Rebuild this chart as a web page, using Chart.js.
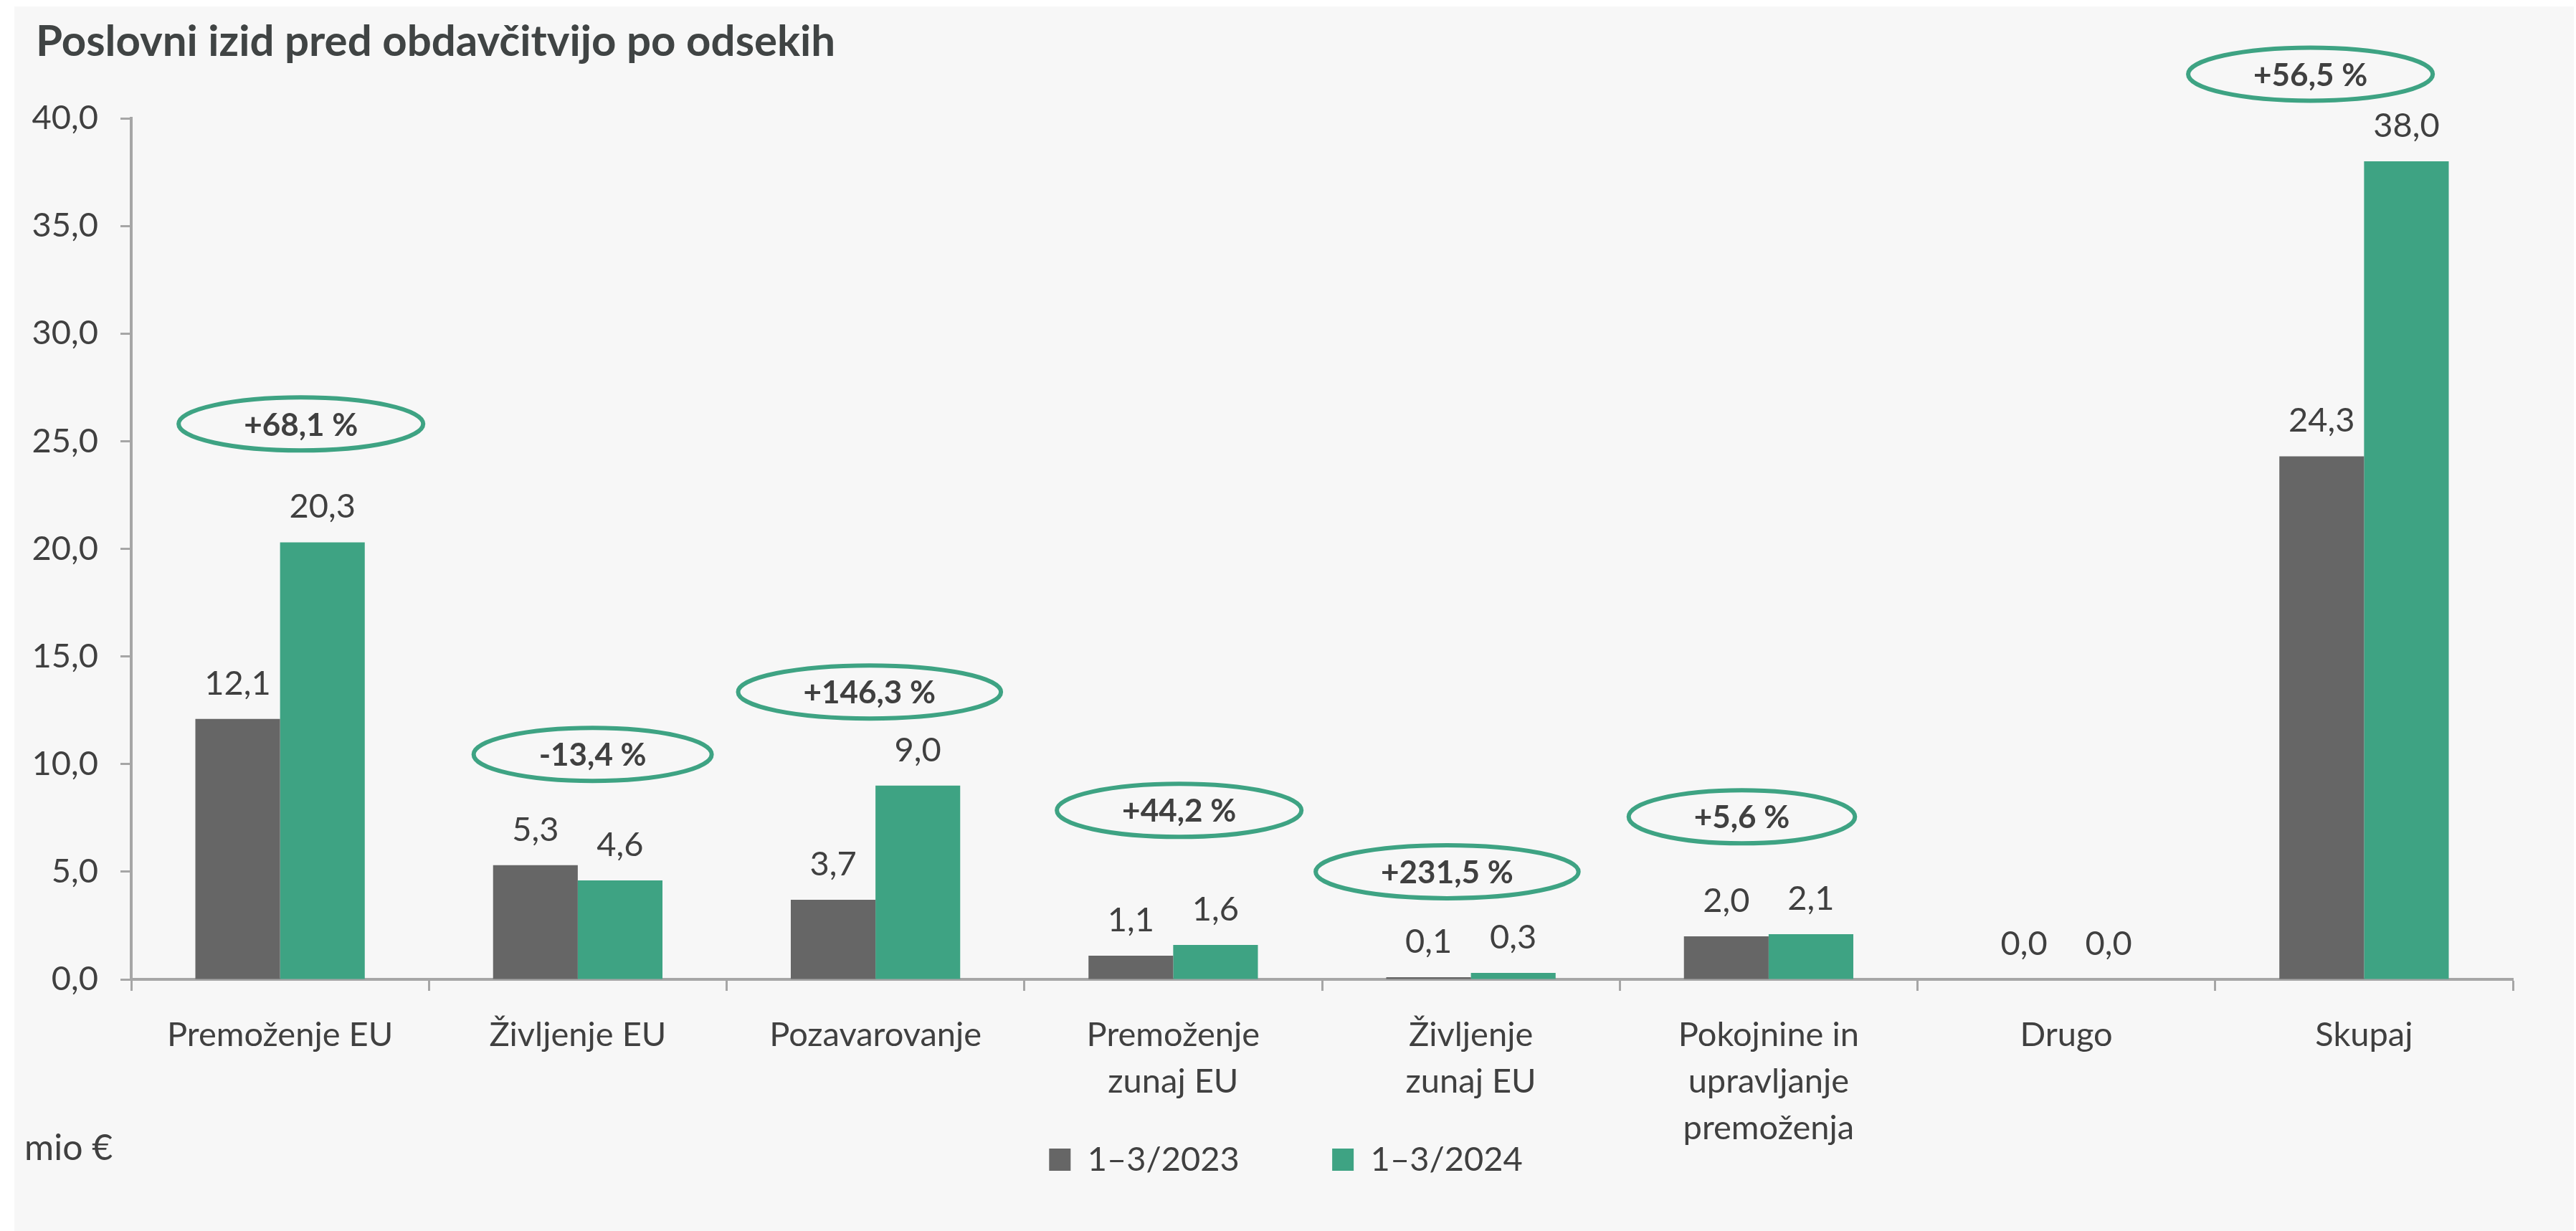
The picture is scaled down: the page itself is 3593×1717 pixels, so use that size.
<!DOCTYPE html>
<html><head><meta charset="utf-8">
<script src="https://cdn.jsdelivr.net/npm/chart.js@4"></script>
<style>
html,body{margin:0;padding:0;background:#fff;width:3593px;height:1717px;overflow:hidden}
#wrap{position:absolute;left:20px;top:9px;width:3570px;height:1708px;background:#f7f7f7}
canvas{display:block}
</style></head><body><div id="wrap"><canvas id="c" width="3570" height="1708"></canvas></div>
<script>
// ---- data ----
const categories = ['Premoženje EU','Življenje EU','Pozavarovanje',['Premoženje','zunaj EU'],['Življenje','zunaj EU'],['Pokojnine in','upravljanje','premoženja'],'Drugo','Skupaj'];
const seriesNames = ['1–3/2023','1–3/2024'];
const values2023 = [12.1,5.3,3.7,1.1,0.1,2.0,0.0,24.3];
const values2024 = [20.3,4.6,9.0,1.6,0.3,2.1,0.0,38.0];
const changeLabels = ['+68,1 %','-13,4 %','+146,3 %','+44,2 %','+231,5 %','+5,6 %',null,'+56,5 %'];
const titleText = 'Poslovni izid pred obdavčitvijo po odsekih';
const unitText = 'mio €';
const yMin = 0, yMax = 40, yStep = 5;

// ---- badge placement (annotation positions, in data units / category fractions) ----
const badgeY  = [25.8,10.45,13.35,7.85,5.0,7.55,null,42.05];
const badgeDX = [0.07,0.05,-0.02,0.02,-0.08,-0.09,null,-0.18];

const GRAY = '#666666', GREEN = '#3ea383', TEXT = '#404040', AXIS = '#a6a6a6';
const FONT = 'Lato';
const fmt = v => v.toFixed(1).replace('.', ',');

Chart.defaults.font.family = FONT;
Chart.defaults.color = TEXT;

const valueLabels = {
  id: 'valueLabels',
  afterDatasetsDraw(chart) {
    const ctx = chart.ctx; ctx.save();
    ctx.font = '47px ' + FONT; ctx.fillStyle = TEXT;
    ctx.textAlign = 'center'; ctx.textBaseline = 'alphabetic';
    chart.data.datasets.forEach((ds, di) => {
      chart.getDatasetMeta(di).data.forEach((bar, i) => {
        ctx.fillText(fmt(ds.data[i]), bar.x, bar.y - 34);
      });
    });
    ctx.restore();
  }
};

// nudge the legend box up/right so it sits beside the wrapped axis labels
const legendNudge = {
  id: 'legendNudge',
  afterLayout(chart) {
    const l = chart.legend; if (!l) return;
    const dy = -12, dx = 31;
    l.top += dy; l.bottom += dy; l.left += dx; l.right += dx;
  }
};

const badges = {
  id: 'badges',
  afterDraw(chart) {
    const ctx = chart.ctx, xs = chart.scales.x, ys = chart.scales.y;
    const catW = xs.getPixelForValue(1) - xs.getPixelForValue(0);
    ctx.save();
    ctx.font = 'bold 44px ' + FONT;
    ctx.textAlign = 'center'; ctx.textBaseline = 'middle';
    changeLabels.forEach((t, i) => {
      if (!t) return;
      const x = xs.getPixelForValue(i) + badgeDX[i] * catW;
      const y = ys.getPixelForValue(badgeY[i]);
      const tw = ctx.measureText(t).width;
      ctx.beginPath();
      ctx.ellipse(x, y, (tw + 182) / 2, 37, 0, 0, Math.PI * 2);
      ctx.lineWidth = 6; ctx.strokeStyle = GREEN; ctx.stroke();
      ctx.fillStyle = TEXT;
      ctx.fillText(t, x, y + 2);
    });
    // title and unit
    ctx.textAlign = 'left';
    ctx.textBaseline = 'alphabetic';
    ctx.fillStyle = '#404444';
    ctx.font = 'bold 60px ' + FONT;
    ctx.fillText(titleText, 30, 69);
    ctx.fillStyle = TEXT;
    ctx.font = '50px ' + FONT;
    ctx.textBaseline = 'middle';
    ctx.fillText(unitText, 14, 1593);
    ctx.restore();
  }
};

new Chart(document.getElementById('c'), {
  type: 'bar',
  data: {
    labels: categories,
    datasets: [
      {label: seriesNames[0], data: values2023, backgroundColor: GRAY, borderWidth: 0},
      {label: seriesNames[1], data: values2024, backgroundColor: GREEN, borderWidth: 0}
    ]
  },
  options: {
    responsive: false,
    devicePixelRatio: 1,
    animation: false,
    layout: {padding: {top: 156, right: 85, bottom: 54, left: 0}},
    datasets: {bar: {categoryPercentage: 0.569, barPercentage: 1.0}},
    plugins: {
      tooltip: {enabled: false},
      title: {display: false},
      legend: {
        position: 'bottom',
        labels: {
          boxWidth: 30, boxHeight: 31, padding: 0, color: TEXT,
          font: {size: 47},
          generateLabels(chart) {
            const items = Chart.defaults.plugins.legend.labels.generateLabels(chart);
            items.forEach((it, i) => {
              if (i < items.length - 1) it.text = it.text + '\u2003\u2003\u2003\u2002';
              it.lineWidth = 0;
            });
            return items;
          }
        }
      }
    },
    scales: {
      x: {
        ticks: {color: TEXT, font: {size: 47, lineHeight: 65 / 47}, padding: 29, maxRotation: 0, autoSkip: false},
        grid: {drawOnChartArea: false, drawTicks: true, tickLength: 16, tickColor: AXIS, tickWidth: 3, offset: true},
        border: {display: true, color: AXIS, width: 4},
        afterFit(s) { s.height = 240; }
      },
      y: {
        min: yMin, max: yMax,
        ticks: {stepSize: yStep, callback: v => fmt(v), color: TEXT, font: {size: 47}, padding: 31},
        grid: {drawOnChartArea: false, drawTicks: true, tickLength: 15, tickColor: AXIS, tickWidth: 3},
        border: {display: true, color: AXIS, width: 4},
        afterFit(s) { s.width = 163; }
      }
    }
  },
  plugins: [valueLabels, badges, legendNudge]
});
</script></body></html>
